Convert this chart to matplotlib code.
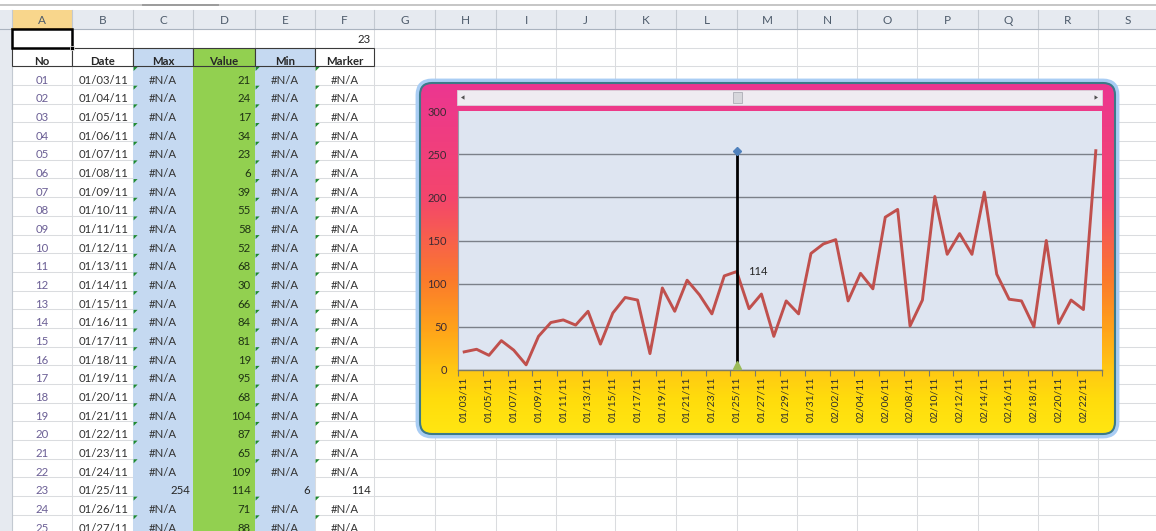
import matplotlib
matplotlib.use("Agg")
import matplotlib.pyplot as plt
from matplotlib.patches import Rectangle, FancyBboxPatch, Polygon
from matplotlib.colors import LinearSegmentedColormap
import numpy as np

plt.rcParams['font.family'] = ['Lato', 'DejaVu Sans']

# ---------------- data ----------------
dates = ["01/03/11", "01/04/11", "01/05/11", "01/06/11", "01/07/11", "01/08/11", "01/09/11",
         "01/10/11", "01/11/11", "01/12/11", "01/13/11", "01/14/11", "01/15/11", "01/16/11",
         "01/17/11", "01/18/11", "01/19/11", "01/20/11", "01/21/11", "01/22/11", "01/23/11",
         "01/24/11", "01/25/11", "01/26/11", "01/27/11", "01/28/11", "01/29/11", "01/30/11",
         "01/31/11", "02/01/11", "02/02/11", "02/03/11", "02/04/11", "02/05/11", "02/06/11",
         "02/07/11", "02/08/11", "02/09/11", "02/10/11", "02/11/11", "02/12/11", "02/13/11",
         "02/14/11", "02/15/11", "02/16/11", "02/17/11", "02/18/11", "02/19/11", "02/20/11",
         "02/21/11", "02/22/11", "02/23/11"]
values = [21, 24, 17, 34, 23, 6, 39, 55, 58, 52, 68, 30, 66, 84, 81, 19, 95, 68, 104, 87,
          65, 109, 114, 71, 88, 39, 80, 65, 135, 146, 151, 80, 112, 94, 177, 186, 51, 81,
          201, 134, 158, 134, 206, 111, 82, 80, 50, 150, 54, 81, 70, 254]
scroll_value = 23          # cell F1 (1-based position of the marker)
max_value = 254
min_value = 6
marker_value = 114
visible_rows = 25
col_letters = list("ABCDEFGHIJKLMNOPQRS")
header_names = ["No", "Date", "Max", "Value", "Min", "Marker"]
y_ticks = [0, 50, 100, 150, 200, 250, 300]

# ---------------- figure / pixel canvas ----------------
W, H = 1156, 531
fig = plt.figure(figsize=(W / 100, H / 100), dpi=100)
bg = fig.add_axes([0, 0, 1, 1])
bg.set_xlim(0, W)
bg.set_ylim(H, 0)
bg.axis('off')

col_edges = [12, 72, 133, 193, 255, 315, 374, 435, 496, 556, 615, 676, 737, 797,
             857, 917, 978, 1038, 1098, 1158]
hdr_top, hdr_bot = 10, 29
r1_top, r2_top, data_top = 29, 47.7, 66.4
pitch = 18.68
row_edges = [r1_top, r2_top, data_top]
y = data_top
while y < H:
    y += pitch
    row_edges.append(y)

# formula bar edge
bg.plot([0, W], [5, 5], color='#c6c6c6', lw=1.4, zorder=1)
bg.plot([143, 218], [5, 5], color='#9c9c9c', lw=1.4, zorder=1)

# gridlines
grid_c = '#dadcdf'
for yy in row_edges:
    bg.plot([12, W], [yy, yy], color=grid_c, lw=0.75, zorder=1)
for xx in col_edges:
    bg.plot([xx, xx], [hdr_bot, H], color=grid_c, lw=0.75, zorder=1)

# left row-header strip
bg.add_patch(Rectangle((0, hdr_top), 12, H - hdr_top, fc='#e6eaf0', ec='none', zorder=1))
bg.plot([12, 12], [hdr_top, H], color='#c3c9d1', lw=0.8, zorder=1)

# column header
bg.add_patch(Rectangle((0, hdr_top), W, hdr_bot - hdr_top, fc='#e6eaf0', ec='none', zorder=2))
bg.add_patch(Rectangle((col_edges[0], hdr_top), col_edges[1] - col_edges[0], hdr_bot - hdr_top,
                       fc='#f8d68c', ec='none', zorder=2))
for xx in col_edges:
    bg.plot([xx, xx], [hdr_top, hdr_bot], color='#c3c9d1', lw=0.8, zorder=3)
bg.plot([0, W], [hdr_bot, hdr_bot], color='#aab3bf', lw=0.8, zorder=3)
bg.plot([col_edges[0], col_edges[1]], [hdr_bot, hdr_bot], color='#e3a53c', lw=1.2, zorder=3)
for k, letter in enumerate(col_letters):
    cx = (col_edges[k] + col_edges[k + 1]) / 2
    bg.text(cx, (hdr_top + hdr_bot) / 2 + 0.5, letter, ha='center', va='center',
            fontsize=8.5, color='#4d5b6b', zorder=4)

# column fills (C, E blue ; D green)
blue, green = '#c5d9f1', '#92d050'
fills = {2: blue, 3: green, 4: blue}
for k, c in fills.items():
    bg.add_patch(Rectangle((col_edges[k], r2_top), col_edges[k + 1] - col_edges[k], H - r2_top,
                           fc=c, ec='none', zorder=2))

# header row 2
for k, name in enumerate(header_names):
    x0, x1 = col_edges[k], col_edges[k + 1]
    bg.add_patch(Rectangle((x0, r2_top), x1 - x0, data_top - r2_top,
                           fc=fills.get(k, 'white'), ec='#3a3a3a', lw=0.8, zorder=3))
    bg.text((x0 + x1) / 2, 61.3, name, ha='center', va='center', fontsize=8.2,
            fontweight='bold', color='#262626', zorder=4)

# row 1: selected A1 and F1 value
bg.add_patch(Rectangle((col_edges[0], r1_top), col_edges[1] - col_edges[0], r2_top - r1_top,
                       fc='white', ec='black', lw=1.8, zorder=5))
bg.add_patch(Rectangle((col_edges[1] - 2.2, r2_top - 2.2), 4.4, 4.4, fc='black', ec='white',
                       lw=0.5, zorder=6))
bg.text(col_edges[6] - 3.5, 39.3, str(scroll_value), ha='right', va='center', fontsize=8.2,
        color='#262626', zorder=4)

# data rows
marker_row = scroll_value - 1
for i in range(visible_rows):
    top = data_top + pitch * i
    ty = top + 13.6
    bg.text((col_edges[0] + col_edges[1]) / 2, ty, f"{i + 1:02d}", ha='center', va='center',
            fontsize=8.2, color='#6b5f95', zorder=4)
    bg.text(104, ty, dates[i], ha='center', va='center', fontsize=8.2, color='#333333', zorder=4)
    bg.text(col_edges[4] - 4, ty, str(values[i]), ha='right', va='center', fontsize=8.2,
            color='#1f3314', zorder=4)
    if i == marker_row:
        bg.text(col_edges[3] - 2.5, ty, str(max_value), ha='right', va='center', fontsize=8.2,
                color='#262626', zorder=4)
        bg.text(col_edges[5] - 4.5, ty, str(min_value), ha='right', va='center', fontsize=8.2,
                color='#262626', zorder=4)
        bg.text(col_edges[6] - 3, ty, str(marker_value), ha='right', va='center', fontsize=8.2,
                color='#262626', zorder=4)
    else:
        for k in (2, 4, 5):
            cx = (col_edges[k] + col_edges[k + 1]) / 2
            bg.text(cx, ty, "#N/A", ha='center', va='center', fontsize=8.2,
                    color='#333333', zorder=4)
            x0 = col_edges[k]
            bg.add_patch(Polygon([(x0 + 0.6, top + 0.6), (x0 + 4.6, top + 0.6), (x0 + 0.6, top + 4.6)],
                                 closed=True, fc='#1e8a2e', ec='none', zorder=4))

# ---------------- chart frame ----------------
cx0, cy0, cw, ch = 420, 83, 695, 351
glow = FancyBboxPatch((cx0 - 2, cy0 - 2), cw + 4, ch + 4,
                      boxstyle='round,pad=0,rounding_size=14', fc='none', ec='#a9cdf4',
                      lw=3.5, zorder=6)
bg.add_patch(glow)
clip = FancyBboxPatch((cx0, cy0), cw, ch, boxstyle='round,pad=0,rounding_size=12',
                      fc='none', ec='none', zorder=6)
bg.add_patch(clip)
cmap = LinearSegmentedColormap.from_list('frame', [
    (0.00, '#ec3690'), (0.08, '#ee3a88'), (0.33, '#f4466c'), (0.56, '#fb7a2c'),
    (0.70, '#ffa21a'), (0.82, '#ffc814'), (0.90, '#ffdc0c'), (1.00, '#ffe612')])
grad = np.linspace(0, 1, 300).reshape(-1, 1)
im = bg.imshow(grad, cmap=cmap, extent=(cx0, cx0 + cw, cy0 + ch, cy0), aspect='auto',
               origin='upper', interpolation='bilinear', zorder=6)
im.set_clip_path(clip)
frame = FancyBboxPatch((cx0, cy0), cw, ch, boxstyle='round,pad=0,rounding_size=12',
                       fc='none', ec='#3c7a88', lw=1.5, zorder=7)
bg.add_patch(frame)
bg.set_xlim(0, W)
bg.set_ylim(H, 0)

# scrollbar
sb_x0, sb_x1, sb_y0, sb_y1 = 457, 1102, 90, 105
bg.add_patch(Rectangle((sb_x0, sb_y0), sb_x1 - sb_x0, sb_y1 - sb_y0, fc='#efebf1', ec='#d9d1da',
                       lw=0.6, zorder=8))
ym = (sb_y0 + sb_y1) / 2
bg.add_patch(Polygon([(461, ym), (464.5, ym - 2.2), (464.5, ym + 2.2)], closed=True,
                     fc='#505050', ec='none', zorder=9))
bg.add_patch(Polygon([(1098, ym), (1094.5, ym - 2.2), (1094.5, ym + 2.2)], closed=True,
                     fc='#505050', ec='none', zorder=9))
thumb_w = 9
track0, track1 = 466, 1093
thumb_x = track0 + (scroll_value - 1) / (len(values) - 1) * (track1 - track0 - thumb_w)
bg.add_patch(Rectangle((thumb_x, sb_y0 + 2), thumb_w, sb_y1 - sb_y0 - 4, fc='#d7d7dc',
                       ec='#adadb5', lw=0.6, zorder=9))

# ---------------- plot area ----------------
pl, pr, pt, pb = 458, 1102, 111, 370
ax = fig.add_axes([pl / W, (H - pb) / H, (pr - pl) / W, (pb - pt) / H])
ax.set_facecolor('#dee5f1')
x = np.arange(len(values))
ax.set_xlim(-0.5, len(values) - 0.5)
ax.set_ylim(0, 300)
ax.set_yticks(y_ticks)
ax.set_yticklabels([str(v) for v in y_ticks])
ax.yaxis.grid(True, color='#7b8089', lw=1.0)
ax.get_ygridlines()[-1].set_visible(False)
ax.set_axisbelow(True)
ax.tick_params(axis='y', length=0, pad=8, labelsize=8, labelcolor='#3d2a33')
ax.set_xticks(x[::2])
ax.set_xticklabels(dates[::2], rotation=90, fontsize=7.5, color='#2e2e2e')
ax.set_xticks(np.arange(-0.5, len(values), 2), minor=True)
ax.tick_params(axis='x', which='major', length=0, pad=5)
ax.tick_params(axis='x', which='minor', length=4, color='#7a7a6a', width=0.8)
for s in ('top', 'right'):
    ax.spines[s].set_visible(False)
ax.spines['left'].set_color('#9a9aa8')
ax.spines['left'].set_linewidth(0.8)
ax.spines['bottom'].set_color('#7a7a6a')
ax.spines['bottom'].set_linewidth(1.0)

ax.plot(x, values, color='#c0504d', lw=2.1, zorder=3)
mi = scroll_value - 1
ax.vlines(mi, min_value, max_value, color='black', lw=2.0, zorder=4)
ax.plot([mi], [max_value], marker='D', ms=4.5, color='#4f81bd', zorder=5, clip_on=False)
ax.plot([mi], [min_value], marker='^', ms=6, color='#9bbb59', zorder=5, clip_on=False)
ax.annotate(str(marker_value), (mi, marker_value), xytext=(8, 0), textcoords='offset points',
            ha='left', va='center', fontsize=8, color='#262626', zorder=6)

fig.savefig('out.png', dpi=100)
